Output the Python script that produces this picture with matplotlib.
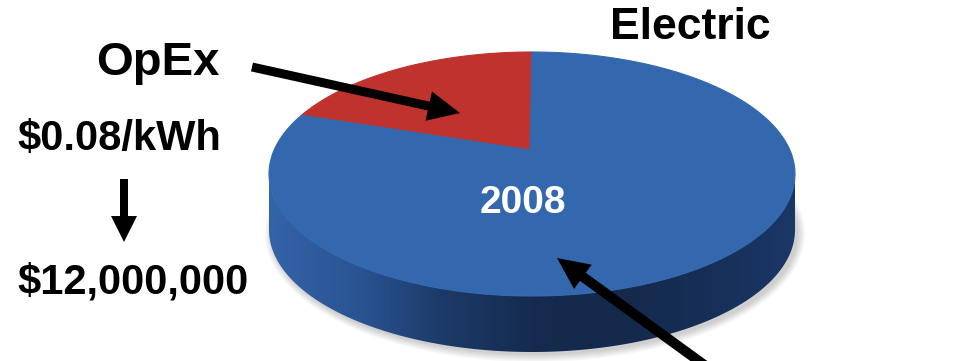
import numpy as np
import matplotlib
matplotlib.use("Agg")
import matplotlib.pyplot as plt
from matplotlib.patches import Polygon, FancyArrow, Ellipse
from matplotlib.colors import LinearSegmentedColormap

# data
slice_labels = ["OpEx", "Other"]
slice_values = [17, 83]
slice_colors = ["#BF322E", "#3468AE"]
year_label = "2008"
title = "Electric"
rate_text = "$0.08/kWh"
cost_text = "$12,000,000"

W, H = 957, 361
fig = plt.figure(figsize=(W / 100, H / 100), dpi=100)
ax = fig.add_axes([0, 0, 1, 1])
ax.set_xlim(0, W)
ax.set_ylim(H, 0)
ax.axis("off")

plt.rcParams["font.family"] = ["Liberation Sans", "DejaVu Sans"]

# pie geometry (pixels)
cx, cy = 532, 174
rx, ry = 263, 122
depth = 56
hub = (530, 150)


def rim(t, dy=0):
    t = np.radians(t)
    return np.column_stack([cx + rx * np.cos(t), cy - ry * np.sin(t) + dy])


# soft shadow
for k in range(8):
    ax.add_patch(Ellipse((cx + 3, cy + depth + 4), 2 * rx + 14 - k * 2, 2 * ry + 12 - k * 2,
                         color="#000000", alpha=0.025, lw=0, zorder=1))

# side wall (front half)
t_front = np.linspace(180, 360, 200)
side_pts = np.vstack([rim(t_front), rim(t_front[::-1], depth)])
side = Polygon(side_pts, closed=True, facecolor="none", edgecolor="none", zorder=2)
ax.add_patch(side)
side_cmap = LinearSegmentedColormap.from_list(
    "side", ["#3463A8", "#2A5494", "#1C3A68", "#152B4F", "#14294B", "#172F57", "#1B3766"])
grad = np.linspace(0, 1, 256)[None, :]
im = ax.imshow(grad, cmap=side_cmap, extent=[cx - rx, cx + rx, cy + ry + depth, cy],
               aspect="auto", zorder=2, interpolation="bicubic")
im.set_clip_path(side)

# top face wedges
fracs = np.array(slice_values) / sum(slice_values)
start = 90.0
for frac, col, lab in zip(fracs, slice_colors, slice_labels):
    end = start + 360 * frac
    arc = rim(np.linspace(start, end, 200))
    pts = np.vstack([[hub], arc])
    ax.add_patch(Polygon(pts, closed=True, facecolor=col, edgecolor=col, lw=0.8, zorder=3))
    start = end

# texts
bold = dict(fontweight="bold", color="black")
ax.text(690, 39, title, fontsize=32, ha="center", va="baseline", **bold)
ax.text(158, 75, slice_labels[0], fontsize=34, ha="center", va="baseline", **bold)
ax.text(119, 150, rate_text, fontsize=30, ha="center", va="baseline", **bold)
ax.text(133, 293, cost_text, fontsize=30, ha="center", va="baseline", **bold)
ax.text(523, 213, year_label, fontsize=28, ha="center", va="baseline",
        fontweight="bold", color="white", zorder=5)

# arrows
ax.add_patch(FancyArrow(124, 179, 0, 63, width=8, head_width=26, head_length=26,
                        length_includes_head=True, color="black", lw=0, zorder=6))
ax.add_patch(FancyArrow(252, 67, 460 - 252, 113 - 67, width=9, head_width=30, head_length=32,
                        length_includes_head=True, color="black", lw=0, zorder=6))
ax.add_patch(FancyArrow(725, 380, 557 - 725, 258 - 380, width=10, head_width=30, head_length=32,
                        length_includes_head=True, color="black", lw=0, zorder=6))

fig.savefig("out.png", dpi=100)
